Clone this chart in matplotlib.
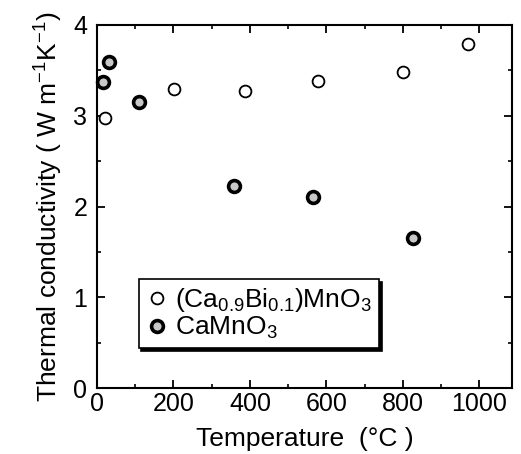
import matplotlib
matplotlib.use("Agg")
import matplotlib.pyplot as plt
from matplotlib.ticker import MultipleLocator

plt.rcParams['font.family'] = ['Liberation Sans', 'DejaVu Sans']
plt.rcParams['mathtext.fontset'] = 'custom'
plt.rcParams['mathtext.rm'] = 'Liberation Sans'
plt.rcParams['mathtext.it'] = 'Liberation Sans:italic'

bi_temp = [21, 201, 387, 579, 799, 970]
bi_k = [2.97, 3.29, 3.27, 3.38, 3.48, 3.79]
ca_temp = [15, 31, 111, 358, 566, 825]
ca_k = [3.37, 3.59, 3.15, 2.23, 2.10, 1.65]

fig = plt.figure(figsize=(5.21, 4.54), dpi=100)
ax = fig.add_axes([97/521, 1-388/454, (512-97)/521, (388-25)/454])

ax.plot(bi_temp, bi_k, 'o', ms=8.5, mfc='white', mec='black', mew=1.3,
        label=r'$\mathregular{(Ca_{0.9}Bi_{0.1})MnO_3}$', clip_on=False)
ax.plot(ca_temp, ca_k, 'o', ms=8.5, mfc='#c8c8c8', mec='black', mew=2.6,
        label=r'$\mathregular{CaMnO_3}$', clip_on=False)

ax.set_xlim(0, 1085)
ax.set_ylim(0, 4)
ax.xaxis.set_major_locator(MultipleLocator(200))
ax.xaxis.set_minor_locator(MultipleLocator(100))
ax.yaxis.set_major_locator(MultipleLocator(1))
ax.yaxis.set_minor_locator(MultipleLocator(0.5))
ax.tick_params(which='both', direction='in', top=True, right=True, labelsize=18)
ax.tick_params(which='major', length=6, width=1.3)
ax.tick_params(which='minor', length=3, width=1.2)
ax.tick_params(axis='y', pad=7)
ax.tick_params(axis='x', pad=3)
for s in ax.spines.values():
    s.set_linewidth(1.5)

ax.set_xlabel('Temperature  (°C )', fontsize=19, labelpad=8)
ax.set_ylabel(r'Thermal conductivity ( W m$^{\mathregular{-1}}$K$^{\mathregular{-1}}$)', fontsize=19, labelpad=6)

leg = ax.legend(loc='lower left', bbox_to_anchor=(0.1, 0.11), fontsize=19,
                frameon=True, fancybox=False, shadow={'color': 'black', 'alpha': 1},
                handletextpad=0.25, borderpad=0.25, labelspacing=0.05, handlelength=0.9,
                borderaxespad=0)
leg.get_frame().set_edgecolor('black')
leg.get_frame().set_linewidth(1.2)
leg.get_frame().set_alpha(1)

fig.savefig('out.png', dpi=100)
